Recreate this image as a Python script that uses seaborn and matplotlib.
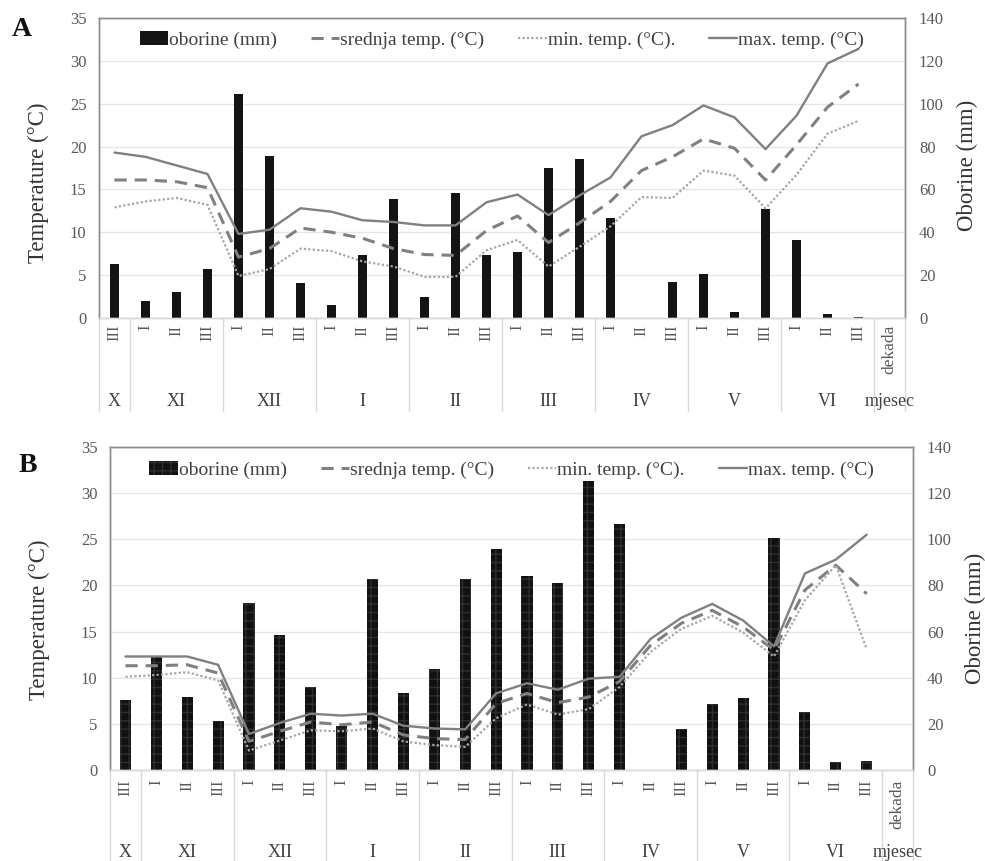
import numpy as np
import pandas as pd
import matplotlib
matplotlib.use("Agg")
import matplotlib.pyplot as plt
import seaborn as sns
from matplotlib.patches import Patch
from matplotlib.lines import Line2D

# ---------------- data ----------------
dekade = ['III', 'I', 'II', 'III', 'I', 'II', 'III', 'I', 'II', 'III', 'I', 'II', 'III',
          'I', 'II', 'III', 'I', 'II', 'III', 'I', 'II', 'III', 'I', 'II', 'III']
mjeseci = ['X', 'XI', 'XII', 'I', 'II', 'III', 'IV', 'V', 'VI']
mjeseci_broj_dekada = [1, 3, 3, 3, 3, 3, 3, 3, 3]

# Panel A
oborine_A = [25, 8, 12, 23, 104.5, 75.5, 16.3, 6, 29.5, 55.3, 9.9, 58.4, 29.5,
             30.7, 69.8, 74, 46.5, 0, 17, 20.5, 2.6, 50.9, 36.4, 1.9, 0.5]
srednja_A = [16.1, 16.1, 15.9, 15.2, 7.1, 8.1, 10.5, 10.0, 9.3, 8.1, 7.4, 7.3, 10.2,
             11.9, 8.8, 11.1, 13.6, 17.2, 18.8, 20.9, 19.8, 16.1, 20.2, 24.6, 27.3]
min_A = [12.9, 13.6, 14.0, 13.2, 4.9, 5.7, 8.1, 7.8, 6.6, 6.0, 4.8, 4.8, 7.9,
         9.1, 6.0, 8.3, 10.7, 14.1, 14.0, 17.2, 16.6, 12.8, 16.7, 21.5, 23.0]
max_A = [19.3, 18.8, 17.8, 16.8, 9.8, 10.3, 12.8, 12.4, 11.4, 11.2, 10.8, 10.8, 13.5,
         14.4, 12.0, 14.3, 16.4, 21.2, 22.5, 24.8, 23.4, 19.7, 23.6, 29.7, 31.4]

# Panel B
oborine_B = [30.3, 49.4, 31.5, 21.2, 72.2, 58.4, 35.8, 19.0, 83.0, 33.2, 43.6, 83.0, 96.0,
             84.1, 81.2, 125.3, 106.5, 0, 17.7, 28.6, 31.3, 100.7, 25.0, 3.6, 3.9]
srednja_B = [11.3, 11.3, 11.4, 10.5, 3.1, 4.2, 5.2, 4.9, 5.2, 3.8, 3.4, 3.3, 7.2,
             8.3, 7.3, 7.9, 9.6, 13.5, 15.9, 17.3, 15.5, 13.0, 19.5, 22.2, 19.1]
min_B = [10.1, 10.3, 10.6, 9.7, 2.1, 3.2, 4.3, 4.2, 4.5, 3.1, 2.7, 2.5, 5.6,
         7.1, 6.0, 6.6, 9.0, 12.8, 15.3, 16.7, 14.9, 12.3, 18.4, 22.2, 13.1]
max_B = [12.3, 12.3, 12.3, 11.4, 3.9, 5.1, 6.1, 5.9, 6.1, 4.8, 4.5, 4.4, 8.3,
         9.4, 8.7, 9.9, 10.1, 14.2, 16.5, 18.0, 16.2, 13.4, 21.3, 22.8, 25.5]

temp_ticks = [0, 5, 10, 15, 20, 25, 30, 35]
obor_ticks = [0, 20, 40, 60, 80, 100, 120, 140]

leg_labels = ['oborine (mm)', 'srednja temp. (°C)', 'min. temp. (°C).', 'max. temp. (°C)']

# ---------------- style ----------------
sns.set_theme(style="white")
plt.rcParams['font.family'] = ['Liberation Serif', 'DejaVu Serif']
plt.rcParams['hatch.linewidth'] = 1.0

TXT = '#404040'
TICK = '#595959'
SEP = '#d9d9d9'
C_MAX = '#808080'
C_MEAN = '#808080'
C_MIN = '#a6a6a6'
HATCH_C = '#2f2f2f'

fig = plt.figure(figsize=(9.85, 8.61), dpi=100)


def panel(rect, obor, mean, tmin, tmax, letter, letter_xy, bar_color, bar_w, hatch,
          roman_y, month_y, sep_y, lab_l, lab_r, leg_y):
    ax = fig.add_axes(rect)
    ax2 = ax.twinx()
    x = np.arange(len(dekade))
    df = pd.DataFrame({'x': x, 'oborine': obor, 'srednja': mean, 'min': tmin, 'max': tmax})

    # bars on secondary axis
    sns.barplot(data=df, x='x', y='oborine', ax=ax2, native_scale=True,
                color=bar_color, width=bar_w, saturation=1, linewidth=0, zorder=2)
    if hatch:
        for p in ax2.patches:
            p.set_hatch(hatch)
            p.set_edgecolor(HATCH_C)
            p.set_linewidth(0)
    # lines on primary axis
    sns.lineplot(data=df, x='x', y='max', ax=ax, color=C_MAX, lw=1.7)
    sns.lineplot(data=df, x='x', y='srednja', ax=ax, color=C_MEAN, lw=2.2)
    ax.lines[-1].set_linestyle((0, (4, 2.6)))
    sns.lineplot(data=df, x='x', y='min', ax=ax, color=C_MIN, lw=1.6)
    ax.lines[-1].set_linestyle((0, (1, 1)))

    ax.set_zorder(ax2.get_zorder() + 1)
    ax.patch.set_visible(False)

    for a in (ax, ax2):
        a.set_xlim(-0.5, len(dekade) + 0.5)
        a.set_xticks([])
        a.set_xlabel('')
    ax.set_ylim(0, 35)
    ax2.set_ylim(0, 140)
    ax.set_yticks(temp_ticks)
    ax2.set_yticks(obor_ticks)
    ax.tick_params(axis='y', length=0, pad=9, labelsize=12, labelcolor=TICK)
    ax2.tick_params(axis='y', length=0, pad=10, labelsize=12, labelcolor=TICK)
    ax2.yaxis.grid(True, color='#e6e6e6', lw=1)
    ax.grid(False)

    ax.set_ylabel('Temperature (°C)', fontsize=16.5, color='#333333')
    ax.yaxis.set_label_coords(lab_l[0], lab_l[1])
    ax2.set_ylabel('Oborine (mm)', fontsize=16.5, color='#333333')
    ax2.yaxis.set_label_coords(lab_r[0], lab_r[1])

    for a in (ax, ax2):
        for s in ('left', 'right', 'top'):
            a.spines[s].set_color('#8c8c8c')
            a.spines[s].set_linewidth(1.0)
        a.spines['bottom'].set_color(SEP)
        a.spines['bottom'].set_linewidth(1.0)

    tr = ax.get_xaxis_transform()
    # decade labels
    for i, d in enumerate(dekade):
        ax.text(i, roman_y, d, rotation=90, ha='center', va='top', fontsize=12,
                color=TICK, transform=tr, clip_on=False)
    ax.text(len(dekade), roman_y, 'dekada', rotation=90, ha='center', va='top',
            fontsize=12.5, color=TICK, transform=tr, clip_on=False)
    # month groups
    start = 0
    bounds = [-0.5]
    for m, n in zip(mjeseci, mjeseci_broj_dekada):
        centre = start + (n - 1) / 2
        ax.text(centre, month_y, m, ha='center', va='center', fontsize=13,
                color=TXT, transform=tr, clip_on=False)
        start += n
        bounds.append(start - 0.5)
    bounds.append(len(dekade) + 0.5)
    ax.text(len(dekade), month_y, 'mjesec', ha='center', va='center', fontsize=13,
            color=TXT, transform=tr, clip_on=False)
    for b in bounds:
        ax.plot([b, b], [0, sep_y], color=SEP, lw=1.0, transform=tr, clip_on=False)

    handles = [Patch(facecolor=bar_color, edgecolor=HATCH_C if hatch else 'none',
                     hatch=hatch, linewidth=0),
               Line2D([], [], color=C_MEAN, lw=2.2, ls=(0, (4, 2.6))),
               Line2D([], [], color=C_MIN, lw=1.6, ls=(0, (1, 1))),
               Line2D([], [], color=C_MAX, lw=1.7)]
    leg = ax.legend(handles, leg_labels, loc='center', bbox_to_anchor=(0.5, leg_y),
                    ncol=4, frameon=False, fontsize=14, handlelength=1.45,
                    handletextpad=0.05, columnspacing=1.75, handleheight=0.7)
    for t in leg.get_texts():
        t.set_color(TXT)

    fig.text(letter_xy[0], letter_xy[1], letter, fontsize=20, fontweight='bold',
             ha='center', va='center', color='#111111')
    return ax, ax2


panel([0.1005, 0.6307, 0.8183, 0.3484], oborine_A, srednja_A, min_A, max_A,
      'A', (22 / 985, 1 - 30 / 861), '#141414', 0.3, None,
      roman_y=-0.022, month_y=-0.28, sep_y=-0.31,
      lab_l=(-0.062, 0.45), lab_r=(1.064, 0.51), leg_y=0.927)

panel([0.1117, 0.1057, 0.8152, 0.3751], oborine_B, srednja_B, min_B, max_B,
      'B', (28 / 985, 1 - 466 / 861), '#111111', 0.36, '++',
      roman_y=-0.03, month_y=-0.257, sep_y=-0.285,
      lab_l=(-0.075, 0.464), lab_r=(1.065, 0.47), leg_y=0.929)

fig.savefig('out.png', dpi=100, facecolor='white')
